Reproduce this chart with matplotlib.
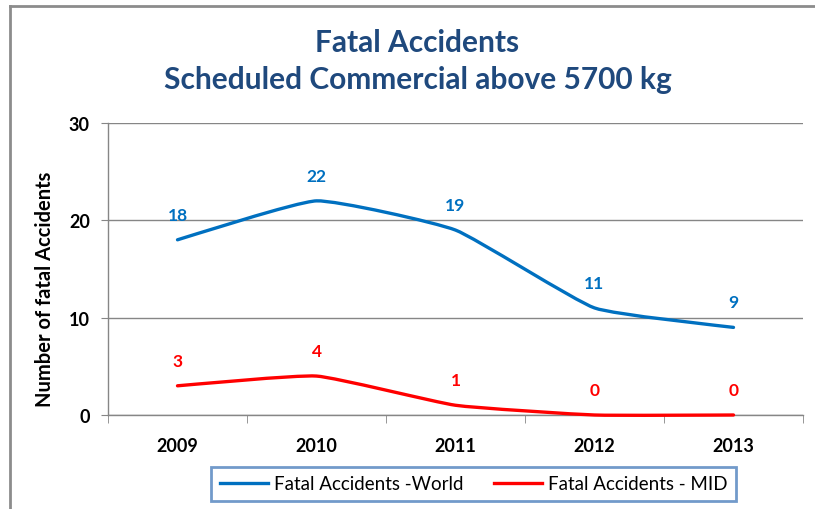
import numpy as np
import matplotlib
matplotlib.use('Agg')
import matplotlib.pyplot as plt
from matplotlib.path import Path
from matplotlib.patches import PathPatch
from matplotlib.lines import Line2D

years = ['2009', '2010', '2011', '2012', '2013']
world = [18, 22, 19, 11, 9]
mid = [3, 4, 1, 0, 0]

plt.rcParams['font.family'] = ['Lato', 'DejaVu Sans']

BLUE = '#0070C0'
RED = '#FF0000'
TITLE = '#1F497D'
GRID = '#868686'


def smooth_path(xs, ys, k=14):
    # gentle bezier through the points, like excel's smoothed line
    pts = np.column_stack([xs, ys]).astype(float)
    ext = np.vstack([pts[0], pts, pts[-1]])
    verts = [pts[0]]
    codes = [Path.MOVETO]
    for i in range(len(pts) - 1):
        p0, p1, p2, p3 = ext[i], ext[i + 1], ext[i + 2], ext[i + 3]
        verts += [p1 + (p2 - p0) / k, p2 - (p3 - p1) / k, p2]
        codes += [Path.CURVE4] * 3
    return Path(verts, codes)


fig = plt.figure(figsize=(8.15, 5.1), dpi=100)
ax = fig.add_axes([108 / 815, 1 - 416 / 510, (803 - 108) / 815, (416 - 124) / 510])

x = np.arange(len(years))
for vals, col in [(world, BLUE), (mid, RED)]:
    patch = PathPatch(smooth_path(x, vals), facecolor='none', edgecolor=col,
                      lw=2.4, capstyle='round', zorder=3, clip_on=False)
    ax.add_patch(patch)
    for xi, v in zip(x, vals):
        ax.annotate(str(v), (xi, v), xytext=(0, 18), textcoords='offset points',
                    ha='center', va='center', color=col, fontsize=12.5, fontweight='bold')

ax.set_xlim(-0.5, 4.5)
ax.set_ylim(0, 30)
ax.set_yticks([0, 10, 20, 30])
ax.set_xticks(x)
ax.set_xticklabels(years)
ax.set_xticks(np.arange(-0.5, 5, 1), minor=True)
ax.tick_params(axis='x', which='major', length=0, pad=16, labelsize=13)
ax.tick_params(axis='x', which='minor', length=6, color=GRID, direction='out')
ax.tick_params(axis='y', length=5, color=GRID, pad=8, labelsize=13)
for lab in ax.get_xticklabels() + ax.get_yticklabels():
    lab.set_fontweight('bold')
ax.grid(axis='y', color=GRID, lw=1)
ax.set_axisbelow(True)
for s in ['top', 'right']:
    ax.spines[s].set_visible(False)
for s in ['left', 'bottom']:
    ax.spines[s].set_color(GRID)
    ax.spines[s].set_linewidth(1)
ax.set_ylabel('Number of fatal Accidents', fontsize=14.5, fontweight='bold')
ax.yaxis.set_label_coords(55 / 815, 1 - 289 / 510, transform=fig.transFigure)

fig.text(0.512, 1 - 43 / 510, 'Fatal Accidents', ha='center', va='center',
         fontsize=21.5, fontweight='bold', color=TITLE)
fig.text(0.513, 1 - 80 / 510, 'Scheduled Commercial above 5700 kg', ha='center', va='center',
         fontsize=21.5, fontweight='bold', color=TITLE)

# outer chart border (only left and top visible in the crop)
fig.add_artist(Line2D([9.5 / 815, 9.5 / 815], [0, 1 - 7 / 510], color='#8C8C8C', lw=2))
fig.add_artist(Line2D([9.5 / 815, 1], [1 - 7 / 510, 1 - 7 / 510], color='#8C8C8C', lw=2))

handles = [Line2D([], [], color=BLUE, lw=2.4), Line2D([], [], color=RED, lw=2.4)]
leg = fig.legend(handles, ['Fatal Accidents -World', 'Fatal Accidents - MID'],
                 loc='center', bbox_to_anchor=(473.5 / 815, 1 - 485 / 510), ncol=2,
                 frameon=True, fancybox=False, fontsize=13.5, handlelength=2.6,
                 columnspacing=1.6, handletextpad=0.3, borderpad=0.45)
leg.get_frame().set_edgecolor('#4F81BD')
leg.get_frame().set_linewidth(2)

fig.savefig('out.png', dpi=100)
